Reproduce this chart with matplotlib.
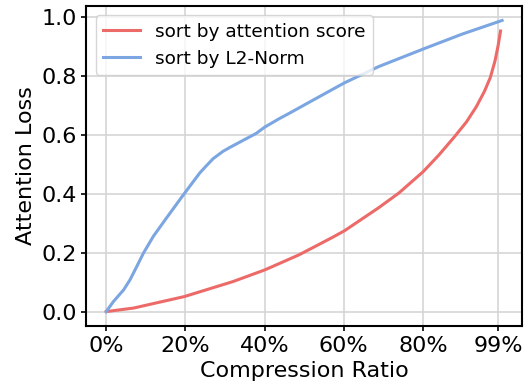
import numpy as np
import matplotlib
matplotlib.use("Agg")
import matplotlib.pyplot as plt

# compression ratio (%) and attention loss for the two token orderings
ratio_score = [0, 6.9, 19.7, 32, 40.1, 48.7, 57.1, 60.2, 68.8, 73.9, 80, 84, 88, 91, 93.5, 95.5, 97, 98.2, 99.0, 99.6]
loss_score = [0, 0.012, 0.051, 0.102, 0.142, 0.193, 0.252, 0.275, 0.353, 0.403, 0.475, 0.532, 0.595, 0.645, 0.697,
              0.748, 0.795, 0.852, 0.905, 0.954]

ratio_norm = [0, 1.8, 4.4, 6.0, 7.7, 9.4, 11.9, 15.2, 19.7, 23.6, 25.3, 27, 29.5, 31.2, 33.7, 37.9, 40, 43.7, 46.2,
              52.1, 60.2, 64.6, 68.8, 80.3, 89.8, 100]
loss_norm = [0, 0.034, 0.074, 0.108, 0.153, 0.199, 0.256, 0.318, 0.401, 0.471, 0.496, 0.52, 0.545, 0.558, 0.576,
             0.606, 0.627, 0.656, 0.674, 0.718, 0.778, 0.806, 0.833, 0.894, 0.943, 0.99]

xticks = [0, 20, 40, 60, 80, 99]
xtick_labels = ["0%", "20%", "40%", "60%", "80%", "99%"]
yticks = [0.0, 0.2, 0.4, 0.6, 0.8, 1.0]

fig, ax = plt.subplots(figsize=(5.24, 3.92), dpi=100)

ax.plot(ratio_score, loss_score, color="#EC6A68", lw=2.2, solid_joinstyle="round", label="sort by attention score")
ax.plot(ratio_norm, loss_norm, color="#7BA6E1", lw=2.2, solid_joinstyle="round", label="sort by L2-Norm")

ax.set_xticks(xticks)
ax.set_xticklabels(xtick_labels)
ax.set_yticks(yticks)
ax.tick_params(labelsize=16, width=1.2)
ax.set_xlabel("Compression Ratio", fontsize=16)
ax.set_ylabel("Attention Loss", fontsize=16)
ax.grid(True, color="#d5d5d5", lw=1.2)
ax.set_axisbelow(True)
for s in ax.spines.values():
    s.set_linewidth(1.5)

ax.legend(loc="upper left", fontsize=13.3)

plt.subplots_adjust(left=0.165, right=0.996, top=0.985, bottom=0.168)
plt.savefig("out.png")
